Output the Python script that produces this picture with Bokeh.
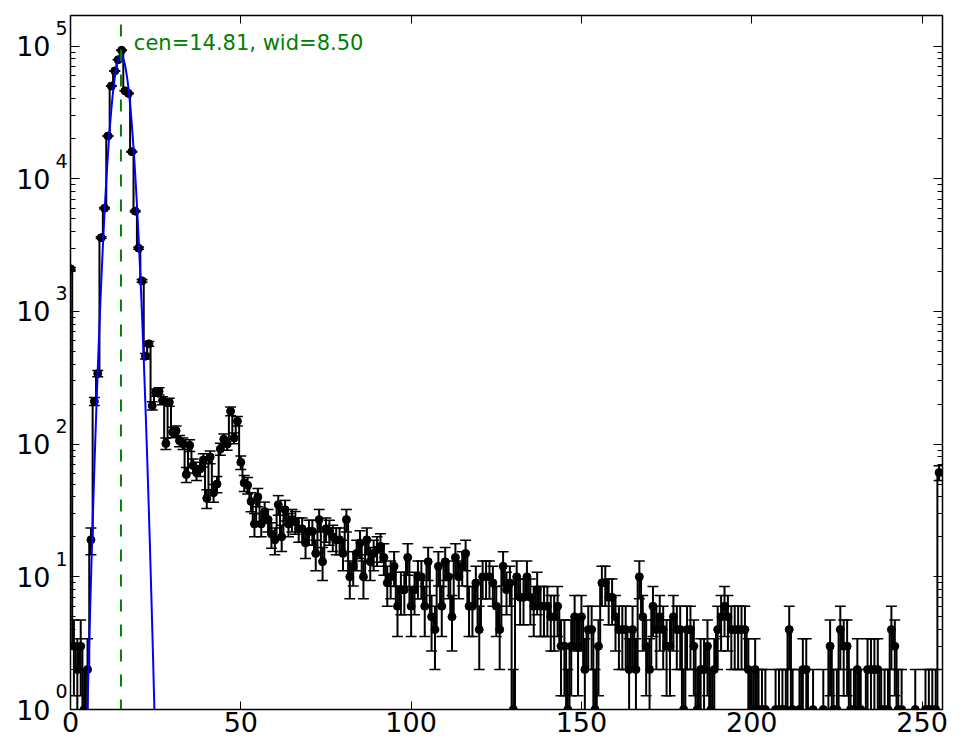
import numpy as np
from bokeh.plotting import figure
from bokeh.models import (LinearAxis, LogAxis, FixedTicker, CustomJSTickFormatter,
                          Range1d)
from bokeh.core.properties import value
from bokeh.embed import file_html
from bokeh.resources import INLINE

FONT = "DejaVu Sans"

# ---- data: histogram counts per bin (bins 0..255) ----
counts = [
    2100, 3, 2, 3, 1, 2, 19, 210, 340, 3600,                      # 0-9
    6000, 21000, 50000, 65000, 79000, 93000, 46000, 44000, 16000, 5700,  # 10-19
    3000, 1700, 460, 570, 195, 245, 250, 213, 101, 207,          # 20-29
    123, 126, 106, 101, 59, 98, 69, 61, 65, 76,                  # 30-39
    39, 80, 43, 50, 92, 109, 100, 177, 111, 149,                 # 40-49
    73, 51, 49, 37, 25, 40, 25, 31, 27, 21,                      # 50-59
    19, 35, 20, 32, 25, 27, 26, 23, 23, 18,                      # 60-69
    22, 22, 15, 27, 13, 23, 22, 20, 19, 19,                      # 70-79
    15, 27, 10, 12, 15, 18, 10, 19, 13, 15,                      # 80-89
    16, 17, 14, 9, 10, 12, 6, 8, 8, 14,                          # 90-99
    6, 8, 10, 10, 6, 13, 5, 4, 12, 6,                            # 100-109
    13, 10, 5, 14, 10, 12, 15, 6, 6, 9,                          # 110-119
    4, 10, 10, 10, 9, 6, 4, 12, 8, 9,                            # 120-129
    1, 10, 7, 7, 10, 7, 6, 8, 6, 6,                              # 130-139
    6, 5, 5, 6, 3, 3, 1, 3, 5, 3,                                # 140-149
    5, 2, 4, 4, 1, 3, 9, 9, 7, 7,                                # 150-159
    5, 4, 4, 4, 2, 4, 2, 10, 5, 3,                               # 160-169
    2, 6, 4, 5, 4, 3, 3, 5, 4, 4,                                # 170-179
    1, 4, 4, 3, 1, 2, 2, 3, 1, 2,                                # 180-189
    4, 5, 6, 5, 4, 4, 4, 4, 4, 2,                                # 190-199
    1, 2, 1, 1, 1, 0, 0, 1, 1, 1,                                # 200-209
    1, 4, 1, 0, 1, 2, 2, 0, 1, 0,                                # 210-219
    0, 1, 0, 3, 1, 1, 4, 3, 3, 1,                                # 220-229
    1, 2, 1, 0, 2, 2, 2, 2, 1, 1,                                # 230-239
    1, 4, 3, 1, 1, 0, 0, 0, 1, 0,                                # 240-249
    0, 1, 1, 1, 1, 61,                                           # 250-255
]
bins = list(range(len(counts)))

# Gaussian fit parameters shown on the chart
fit_cen = 14.81
fit_wid = 8.50
fit_amp = 85000.0

x_ticks = [0, 50, 100, 150, 200, 250]
y_major = [1, 10, 100, 1000, 10000, 100000]

# ---- derived columns ----
c = np.array(counts, dtype=float)
xb = np.array(bins, dtype=float)
floor = 1e-3
ystep = np.where(c > 0, c, floor)
mask = c > 0
err = np.sqrt(c[mask])
hi = c[mask] + err
lo = c[mask] - err
lo = np.where(lo > 0, lo, floor)
xm = xb[mask]
cap = 1.6

fx = np.arange(0.0, 30.01, 0.25)
fy = fit_amp * np.exp(-(fx - fit_cen) ** 2 / fit_wid)

y_lo, y_hi = 1, 1.7e5

p = figure(width=953, height=748, x_range=Range1d(0, 256), y_range=Range1d(y_lo, y_hi),
           y_axis_type="log", output_backend="svg", toolbar_location=None,
           min_border_left=70, min_border_right=11, min_border_top=15, min_border_bottom=39)
p.grid.visible = False
p.outline_line_color = "black"
p.outline_line_width = 1.5
p.background_fill_color = "white"

y_minor = [m * 10 ** k for k in range(0, 6) for m in range(2, 10)]
blank = CustomJSTickFormatter(code="return '';")

# bottom axis
xa = p.xaxis[0]
xa.ticker = FixedTicker(ticks=x_ticks, minor_ticks=[])
xa.major_tick_in = 8
xa.major_tick_out = 0
xa.minor_tick_in = 0
xa.minor_tick_out = 0
xa.axis_line_color = None
xa.major_label_text_font = FONT
xa.major_label_text_font_size = "27px"
xa.major_label_text_color = "black"
xa.major_label_standoff = 2

# left axis (inner): tick marks only
ya = p.yaxis[0]
ya.ticker = FixedTicker(ticks=y_major, minor_ticks=y_minor)
ya.formatter = blank
ya.major_tick_in = 9
ya.major_tick_out = 0
ya.minor_tick_in = 5
ya.minor_tick_out = 0
ya.axis_line_color = None
ya.major_label_text_font_size = "0px"
ya.major_label_standoff = 0

# left axis (middle): exponents, raised above each decade tick
exp_shift = 10 ** 0.136
exp_axis = LogAxis(
    ticker=FixedTicker(ticks=[t * exp_shift for t in y_major], minor_ticks=[]),
    formatter=CustomJSTickFormatter(code="return String(Math.round(Math.log10(tick) - 0.136));"),
    major_tick_in=0, major_tick_out=0, minor_tick_in=0, minor_tick_out=0,
    axis_line_color=None, major_label_text_font=FONT, major_label_text_font_size="19px",
    major_label_text_color="black", major_label_standoff=3)
p.add_layout(exp_axis, "left")

# left axis (outer): the "10" of each power
base_axis = LogAxis(
    ticker=FixedTicker(ticks=y_major, minor_ticks=[]),
    formatter=CustomJSTickFormatter(code="return '10';"),
    major_tick_in=0, major_tick_out=0, minor_tick_in=0, minor_tick_out=0,
    axis_line_color=None, major_label_text_font=FONT, major_label_text_font_size="27px",
    major_label_text_color="black", major_label_standoff=2)
p.add_layout(base_axis, "left")

top = LinearAxis(ticker=FixedTicker(ticks=x_ticks, minor_ticks=[]), formatter=blank,
                 major_tick_in=8, major_tick_out=0, minor_tick_in=0, minor_tick_out=0,
                 axis_line_color=None, major_label_text_font_size="0px", major_label_standoff=0)
p.add_layout(top, "above")
right = LogAxis(ticker=FixedTicker(ticks=y_major, minor_ticks=y_minor), formatter=blank,
                major_tick_in=9, major_tick_out=0, minor_tick_in=5, minor_tick_out=0,
                axis_line_color=None, major_label_text_font_size="0px", major_label_standoff=0)
p.add_layout(right, "right")

# step histogram
p.step(xb, ystep, mode="center", line_color="black", line_width=2)

# error bars
p.segment(x0=xm, y0=lo, x1=xm, y1=hi, line_color="black", line_width=2)
p.segment(x0=xm - cap, y0=hi, x1=xm + cap, y1=hi, line_color="black", line_width=1.5)
p.segment(x0=xm - cap, y0=lo, x1=xm + cap, y1=lo, line_color="black", line_width=1.5)

# points
p.scatter(xm, c[mask], size=8, marker="circle", fill_color="black", line_color="black")

# gaussian fit
p.line(fx, fy, line_color="#0000ff", line_width=2)

# centre line (drawn from the bottom upwards)
p.segment(x0=[fit_cen], y0=[y_lo], x1=[fit_cen], y1=[y_hi], line_color="#008000",
          line_width=2, line_dash="12 13", line_dash_offset=2)

p.text(x=[18.6], y=[10 ** 5.02], text=["cen=%.2f, wid=%.2f" % (fit_cen, fit_wid)],
       text_font=value(FONT), text_font_size="21px", text_color="#008000",
       text_baseline="alphabetic", text_align="left")

open("out.html", "w").write(file_html(p, INLINE))
